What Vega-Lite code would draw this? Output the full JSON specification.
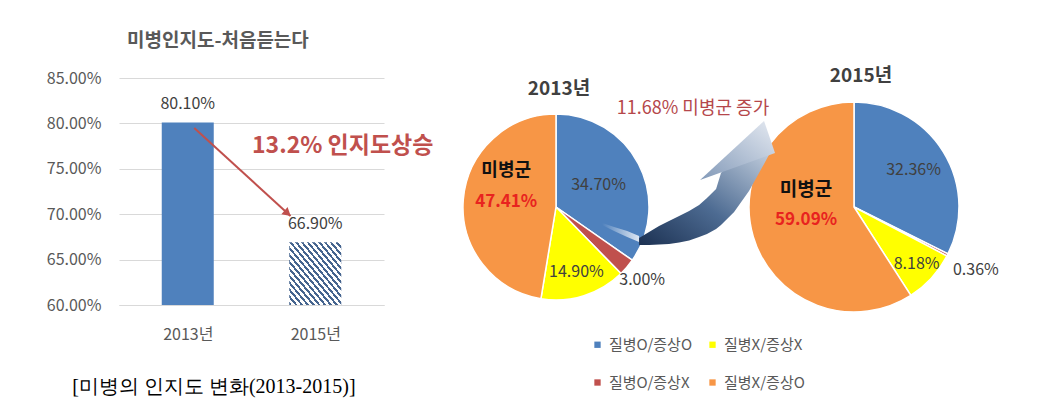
{
  "$schema": "https://vega.github.io/schema/vega-lite/v6.json",
  "padding": {"left": 46, "top": 32, "right": 5, "bottom": 5},
  "background": "white",
  "bounds": "flush",
  "spacing": 40,
  "config": {"font": "Noto Sans CJK KR", "view": {"stroke": null}},
  "resolve": {"scale": {"color": "independent"}, "legend": {"color": "independent"}},
  "title": {"text": "[미병의 인지도 변화(2013-2015)]", "orient": "bottom", "anchor": "start", "frame": "bounds", "font": "Liberation Serif", "fontSize": 20, "fontWeight": "normal", "color": "#000000", "dx": 26, "offset": -14, "baseline": "top"},
  "datasets": {
    "bars": [{"yr": "2013년", "x": 0.5, "y": 0.801}, {"yr": "2015년", "x": 1.5, "y": 0.669}],
    "barArrow": [{"x": 0.551, "y": 0.795, "x2": 1.306, "y2": 0.698}],
    "barArrowHead": [{"x": 1.283, "y": 0.701}],
    "barNote": [{"x": 1.004, "y": 0.775, "label": "13.2% 인지도상승"}],
    "pies": [
      {"year": 2013, "cat": "질병O/증상O", "ord": 1, "value": 0.347},
      {"year": 2013, "cat": "질병O/증상X", "ord": 2, "value": 0.03},
      {"year": 2013, "cat": "질병X/증상X", "ord": 3, "value": 0.149},
      {"year": 2013, "cat": "질병X/증상O", "ord": 4, "value": 0.4741},
      {"year": 2015, "cat": "질병O/증상O", "ord": 1, "value": 0.3236},
      {"year": 2015, "cat": "질병O/증상X", "ord": 2, "value": 0.0036},
      {"year": 2015, "cat": "질병X/증상X", "ord": 3, "value": 0.0818},
      {"year": 2015, "cat": "질병X/증상O", "ord": 4, "value": 0.5909}
    ],
    "shaft": [
      {"x": 2013.557, "top": 0.3798, "bottom": 0.3527},
      {"x": 2013.624, "top": 0.4031, "bottom": 0.3527},
      {"x": 2013.691, "top": 0.4264, "bottom": 0.3547},
      {"x": 2013.758, "top": 0.4457, "bottom": 0.3566},
      {"x": 2013.826, "top": 0.4651, "bottom": 0.3624},
      {"x": 2013.893, "top": 0.4845, "bottom": 0.3702},
      {"x": 2013.96, "top": 0.5078, "bottom": 0.3837},
      {"x": 2014.013, "top": 0.5349, "bottom": 0.3953},
      {"x": 2014.074, "top": 0.5698, "bottom": 0.4147},
      {"x": 2014.107, "top": 0.6318, "bottom": 0.4302},
      {"x": 2014.195, "top": 0.686, "bottom": 0.4806},
      {"x": 2014.295, "top": 0.7171, "bottom": 0.562},
      {"x": 2014.396, "top": 0.7248, "bottom": 0.6667},
      {"x": 2014.45, "top": 0.7326, "bottom": 0.7248}
    ],
    "streak": [
      {"x": 2013.309, "top": 0.438, "bottom": 0.43},
      {"x": 2013.389, "top": 0.4225, "bottom": 0.407},
      {"x": 2013.477, "top": 0.407, "bottom": 0.3837},
      {"x": 2013.557, "top": 0.3876, "bottom": 0.3643}
    ],
    "head": [{"x": 2014.218, "y": 0.719}],
    "pieNote": [{"x": 2013.919, "y": 0.88, "label": "11.68% 미병군 증가"}]
  },
  "hconcat": [
    {
      "width": 265,
      "height": 227,
      "title": {"text": "미병인지도-처음듣는다", "anchor": "start", "frame": "group", "dx": 8, "offset": 0, "fontSize": 19, "fontWeight": "bold", "color": "#595959", "baseline": "bottom"},
      "encoding": {
        "x": {"field": "x", "type": "quantitative", "stack": null, "scale": {"domain": [0, 2], "nice": false, "zero": false},
              "axis": {"values": [0.5, 1.5], "labelExpr": "datum.value < 1 ? '2013년' : '2015년'", "title": null, "grid": false, "labelAngle": 0, "labelFontSize": 16, "labelColor": "#595959", "labelPadding": 21, "domainColor": "#d9d9d9", "ticks": false}},
        "y": {"field": "y", "type": "quantitative", "stack": null, "scale": {"domain": [0.6, 0.85], "zero": false, "nice": false},
              "axis": {"title": null, "format": ".2%", "values": [0.6, 0.65, 0.7, 0.75, 0.8, 0.85], "labelFontSize": 16, "labelColor": "#595959", "labelPadding": 18, "gridColor": "#d9d9d9", "domain": false, "ticks": false}}
      },
      "layer": [
        {"data": {"name": "bars"}, "transform": [{"filter": "datum.yr == '2013년'"}], "mark": {"type": "bar", "width": 52, "fill": "#4f81bd", "orient": "vertical"}, "encoding": {"y2": {"datum": 0.6}}},
        {"data": {"name": "bars"}, "transform": [{"filter": "datum.yr == '2015년'"}], "mark": {"type": "bar", "width": 52, "orient": "vertical", "fill": {"gradient": "linear", "x1": 0, "y1": 1, "x2": 1, "y2": 0, "stops": [
          {"offset": 0, "color": "#46658f"}, {"offset": 0.025, "color": "#46658f"}, {"offset": 0.025, "color": "#ffffff"}, {"offset": 0.0556, "color": "#ffffff"},
          {"offset": 0.0556, "color": "#46658f"}, {"offset": 0.0806, "color": "#46658f"}, {"offset": 0.0806, "color": "#ffffff"}, {"offset": 0.1111, "color": "#ffffff"},
          {"offset": 0.1111, "color": "#46658f"}, {"offset": 0.1361, "color": "#46658f"}, {"offset": 0.1361, "color": "#ffffff"}, {"offset": 0.1667, "color": "#ffffff"},
          {"offset": 0.1667, "color": "#46658f"}, {"offset": 0.1917, "color": "#46658f"}, {"offset": 0.1917, "color": "#ffffff"}, {"offset": 0.2222, "color": "#ffffff"},
          {"offset": 0.2222, "color": "#46658f"}, {"offset": 0.2472, "color": "#46658f"}, {"offset": 0.2472, "color": "#ffffff"}, {"offset": 0.2778, "color": "#ffffff"},
          {"offset": 0.2778, "color": "#46658f"}, {"offset": 0.3028, "color": "#46658f"}, {"offset": 0.3028, "color": "#ffffff"}, {"offset": 0.3333, "color": "#ffffff"},
          {"offset": 0.3333, "color": "#46658f"}, {"offset": 0.3583, "color": "#46658f"}, {"offset": 0.3583, "color": "#ffffff"}, {"offset": 0.3889, "color": "#ffffff"},
          {"offset": 0.3889, "color": "#46658f"}, {"offset": 0.4139, "color": "#46658f"}, {"offset": 0.4139, "color": "#ffffff"}, {"offset": 0.4444, "color": "#ffffff"},
          {"offset": 0.4444, "color": "#46658f"}, {"offset": 0.4694, "color": "#46658f"}, {"offset": 0.4694, "color": "#ffffff"}, {"offset": 0.5, "color": "#ffffff"},
          {"offset": 0.5, "color": "#46658f"}, {"offset": 0.525, "color": "#46658f"}, {"offset": 0.525, "color": "#ffffff"}, {"offset": 0.5556, "color": "#ffffff"},
          {"offset": 0.5556, "color": "#46658f"}, {"offset": 0.5806, "color": "#46658f"}, {"offset": 0.5806, "color": "#ffffff"}, {"offset": 0.6111, "color": "#ffffff"},
          {"offset": 0.6111, "color": "#46658f"}, {"offset": 0.6361, "color": "#46658f"}, {"offset": 0.6361, "color": "#ffffff"}, {"offset": 0.6667, "color": "#ffffff"},
          {"offset": 0.6667, "color": "#46658f"}, {"offset": 0.6917, "color": "#46658f"}, {"offset": 0.6917, "color": "#ffffff"}, {"offset": 0.7222, "color": "#ffffff"},
          {"offset": 0.7222, "color": "#46658f"}, {"offset": 0.7472, "color": "#46658f"}, {"offset": 0.7472, "color": "#ffffff"}, {"offset": 0.7778, "color": "#ffffff"},
          {"offset": 0.7778, "color": "#46658f"}, {"offset": 0.8028, "color": "#46658f"}, {"offset": 0.8028, "color": "#ffffff"}, {"offset": 0.8333, "color": "#ffffff"},
          {"offset": 0.8333, "color": "#46658f"}, {"offset": 0.8583, "color": "#46658f"}, {"offset": 0.8583, "color": "#ffffff"}, {"offset": 0.8889, "color": "#ffffff"},
          {"offset": 0.8889, "color": "#46658f"}, {"offset": 0.9139, "color": "#46658f"}, {"offset": 0.9139, "color": "#ffffff"}, {"offset": 0.9444, "color": "#ffffff"},
          {"offset": 0.9444, "color": "#46658f"}, {"offset": 0.9694, "color": "#46658f"}, {"offset": 0.9694, "color": "#ffffff"}, {"offset": 1, "color": "#ffffff"}
        ]}}, "encoding": {"y2": {"datum": 0.6}}},
        {"data": {"name": "bars"}, "mark": {"type": "text", "dy": -13, "baseline": "alphabetic", "fontSize": 16, "color": "#404040"}, "encoding": {"text": {"field": "y", "type": "quantitative", "format": ".2%"}}},
        {"data": {"name": "barArrow"}, "mark": {"type": "rule", "color": "#c0504d", "strokeWidth": 2}, "encoding": {"x2": {"field": "x2"}, "y2": {"field": "y2"}}},
        {"data": {"name": "barArrowHead"}, "mark": {"type": "point", "shape": "triangle-up", "angle": 131, "size": 90, "filled": true, "color": "#c0504d", "opacity": 1}},
        {"data": {"name": "barNote"}, "mark": {"type": "text", "align": "left", "baseline": "middle", "fontSize": 23, "fontWeight": "bold", "color": "#c0504d"}, "encoding": {"text": {"field": "label"}}}
      ]
    },
    {
      "width": 264,
      "height": 258,
      "title": {"text": "2013년", "fontSize": 19, "fontWeight": "bold", "color": "#404040", "offset": -40, "baseline": "bottom", "anchor": "middle", "dx": 3},
      "data": {"name": "pies"},
      "transform": [{"filter": "datum.year == 2013"}],
      "encoding": {
        "theta": {"field": "value", "type": "quantitative", "stack": true},
        "order": {"field": "ord", "type": "quantitative"},
        "color": {"field": "cat", "type": "nominal",
          "scale": {"domain": ["질병O/증상O", "질병X/증상X", "질병O/증상X", "질병X/증상O"], "range": ["#4f81bd", "#ffff00", "#c0504d", "#f79646"]},
          "legend": {"orient": "none", "legendX": 166, "legendY": 259, "columns": 2, "direction": "horizontal", "title": null, "symbolType": "square", "symbolSize": 40, "symbolStrokeWidth": 0, "labelFontSize": 15, "labelColor": "#595959", "columnPadding": 12, "rowPadding": 22, "labelOffset": 4, "padding": 0}}
      },
      "layer": [
        {"mark": {"type": "arc", "outerRadius": 93, "stroke": "#ffffff", "strokeWidth": 1.5}},
        {"mark": {"type": "text", "radius": 48, "fontSize": 16}, "encoding": {"text": {"condition": {"test": "datum.ord == 1", "field": "value", "type": "quantitative", "format": ".2%"}, "value": ""}, "color": {"value": "#404040"}, "detail": {"field": "cat"}}},
        {"mark": {"type": "text", "radius": 68, "fontSize": 16}, "encoding": {"text": {"condition": {"test": "datum.ord == 3", "field": "value", "type": "quantitative", "format": ".2%"}, "value": ""}, "color": {"value": "#404040"}, "detail": {"field": "cat"}}},
        {"mark": {"type": "text", "radius": 113, "fontSize": 16}, "encoding": {"text": {"condition": {"test": "datum.ord == 2", "field": "value", "type": "quantitative", "format": ".2%"}, "value": ""}, "color": {"value": "#404040"}, "detail": {"field": "cat"}}},
        {"mark": {"type": "text", "radius": 50, "dy": -32, "fontSize": 18, "fontWeight": "bold"}, "encoding": {"text": {"condition": {"test": "datum.ord == 4", "value": "미병군"}, "value": ""}, "color": {"value": "#111111"}, "detail": {"field": "cat"}}},
        {"mark": {"type": "text", "radius": 50, "dy": -1, "fontSize": 17, "fontWeight": "bold"}, "encoding": {"text": {"condition": {"test": "datum.ord == 4", "field": "value", "type": "quantitative", "format": ".2%"}, "value": ""}, "color": {"value": "#e8231f"}, "detail": {"field": "cat"}}}
      ]
    },
    {
      "width": 252,
      "height": 258,
      "title": {"text": "2015년", "fontSize": 19, "fontWeight": "bold", "color": "#404040", "offset": -27, "baseline": "bottom", "anchor": "middle", "dx": 7},
      "layer": [
        {
          "data": {"name": "pies"},
          "transform": [{"filter": "datum.year == 2015"}],
          "encoding": {
            "theta": {"field": "value", "type": "quantitative", "stack": true},
            "order": {"field": "ord", "type": "quantitative"},
            "color": {"field": "cat", "type": "nominal",
              "scale": {"domain": ["질병O/증상O", "질병X/증상X", "질병O/증상X", "질병X/증상O"], "range": ["#4f81bd", "#ffff00", "#c0504d", "#f79646"]},
              "legend": null}
          },
          "layer": [
            {"mark": {"type": "arc", "outerRadius": 105, "stroke": "#ffffff", "strokeWidth": 1.5}},
            {"mark": {"type": "text", "radius": 70, "fontSize": 16}, "encoding": {"text": {"condition": {"test": "datum.ord == 1", "field": "value", "type": "quantitative", "format": ".2%"}, "value": ""}, "color": {"value": "#404040"}, "detail": {"field": "cat"}}},
            {"mark": {"type": "text", "radius": 85, "fontSize": 16}, "encoding": {"text": {"condition": {"test": "datum.ord == 3", "field": "value", "type": "quantitative", "format": ".2%"}, "value": ""}, "color": {"value": "#404040"}, "detail": {"field": "cat"}}},
            {"mark": {"type": "text", "radius": 137, "fontSize": 16}, "encoding": {"text": {"condition": {"test": "datum.ord == 2", "field": "value", "type": "quantitative", "format": ".2%"}, "value": ""}, "color": {"value": "#404040"}, "detail": {"field": "cat"}}},
            {"mark": {"type": "text", "radius": 50, "dy": -31, "fontSize": 19, "fontWeight": "bold"}, "encoding": {"text": {"condition": {"test": "datum.ord == 4", "value": "미병군"}, "value": ""}, "color": {"value": "#111111"}, "detail": {"field": "cat"}}},
            {"mark": {"type": "text", "radius": 50, "dy": -1, "fontSize": 17, "fontWeight": "bold"}, "encoding": {"text": {"condition": {"test": "datum.ord == 4", "field": "value", "type": "quantitative", "format": ".2%"}, "value": ""}, "color": {"value": "#e8231f"}, "detail": {"field": "cat"}}}
          ]
        },
        {
          "encoding": {
            "x": {"field": "x", "type": "quantitative", "stack": null, "scale": {"domain": [2014.154, 2015.846], "nice": false, "zero": false}, "axis": null},
            "y": {"field": "y", "type": "quantitative", "stack": null, "scale": {"domain": [0, 1], "nice": false, "zero": false}, "axis": null}
          },
          "layer": [
            {
              "data": {"name": "streak"},
              "mark": {"type": "area", "interpolate": "monotone", "stroke": null, "fill": {"gradient": "linear", "x1": 0, "y1": 0, "x2": 1, "y2": 0, "stops": [{"offset": 0, "color": "rgba(255,255,255,0)"}, {"offset": 1, "color": "rgba(235,240,247,0.9)"}]}},
              "encoding": {"y": {"field": "top", "type": "quantitative", "stack": null}, "y2": {"field": "bottom"}}
            },
            {
              "data": {"name": "shaft"},
              "mark": {"type": "area", "interpolate": "linear", "stroke": null, "fill": {"gradient": "linear", "x1": 0, "y1": 1, "x2": 1, "y2": 0, "stops": [{"offset": 0, "color": "#1c3152"}, {"offset": 0.45, "color": "#4d6b92"}, {"offset": 1, "color": "#c9d4e2"}]}},
              "encoding": {"y": {"field": "top", "type": "quantitative", "stack": null}, "y2": {"field": "bottom"}}
            },
            {
              "data": {"name": "head"},
              "mark": {"type": "point", "shape": "M0.707,-0.787L-1,0.787L1,0.067Z", "size": 5625, "filled": true, "opacity": 1, "strokeWidth": 0,
                       "fill": {"gradient": "linear", "x1": 0, "y1": 1, "x2": 1, "y2": 0, "stops": [{"offset": 0, "color": "#8299b8"}, {"offset": 1, "color": "#e4e9f1"}]}}
            },
            {
              "data": {"name": "pieNote"},
              "mark": {"type": "text", "fontSize": 18, "color": "#b5474b", "align": "center", "baseline": "middle"},
              "encoding": {"text": {"field": "label"}}
            }
          ]
        }
      ]
    }
  ]
}
